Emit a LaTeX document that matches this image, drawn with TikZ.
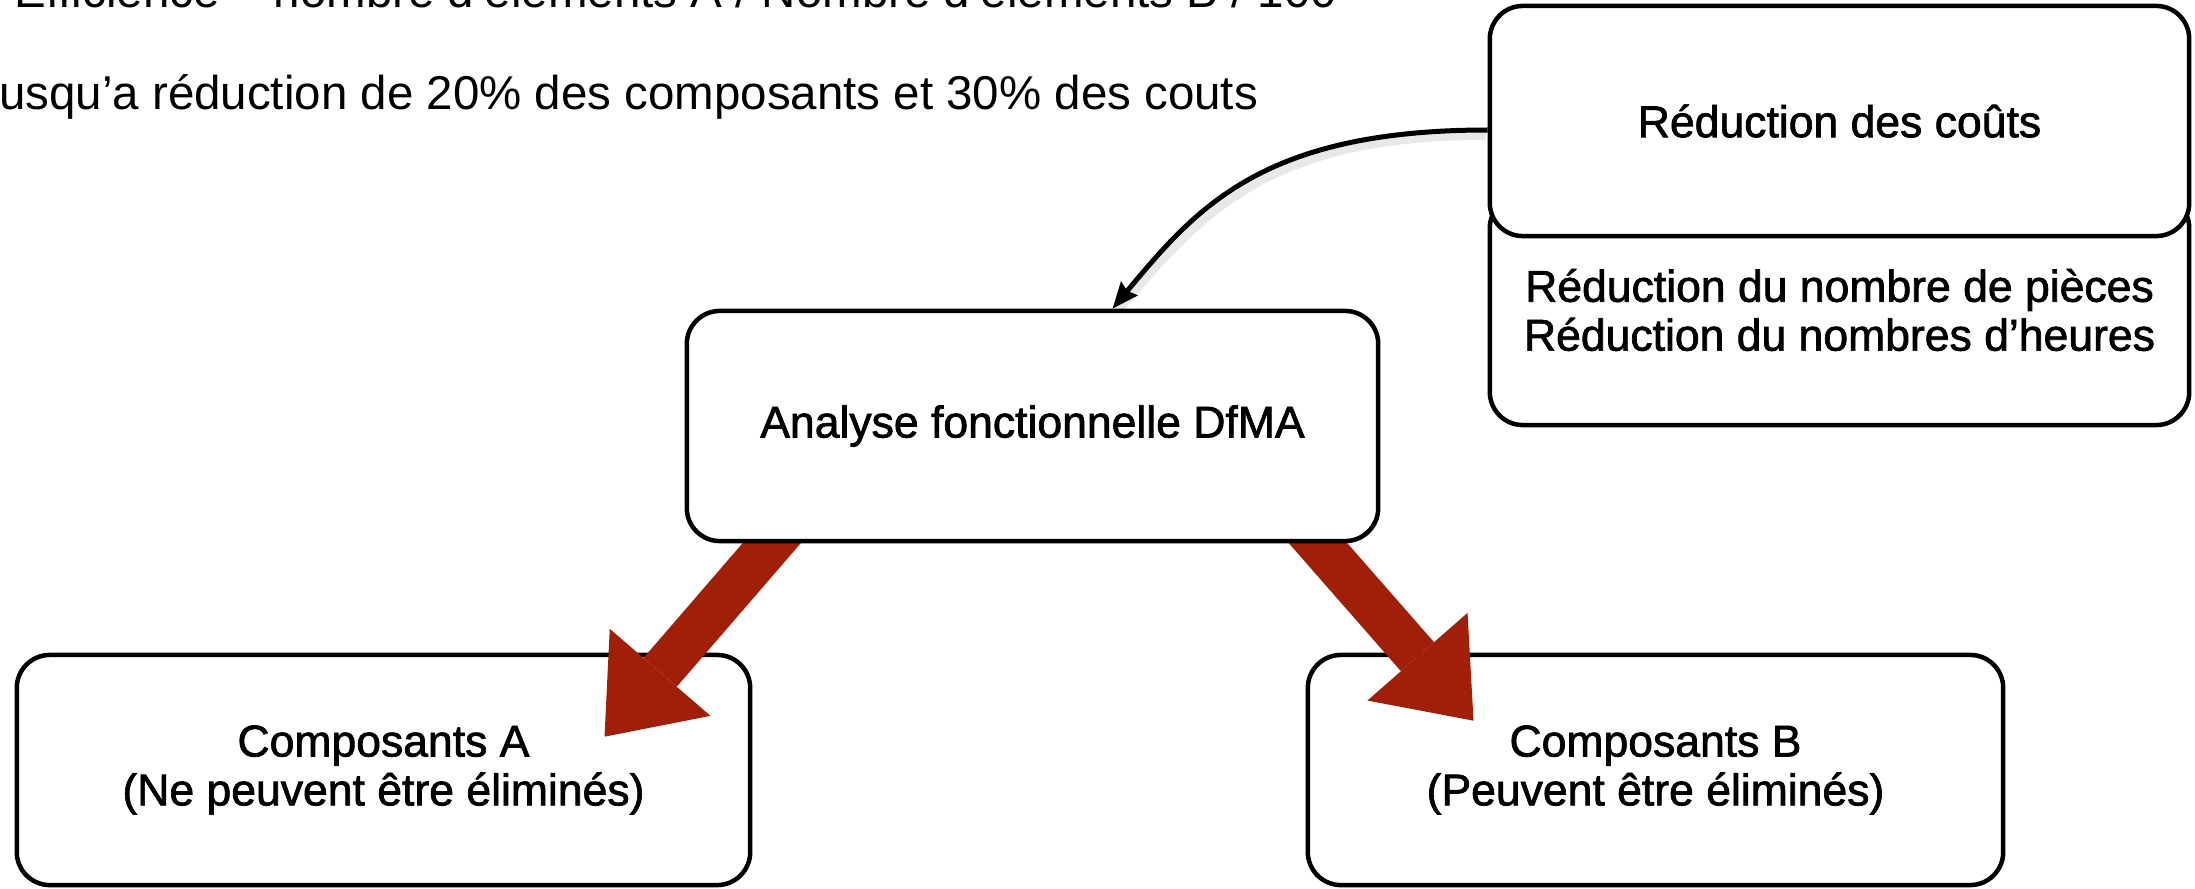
\documentclass[tikz,border=0pt]{standalone}
\usepackage{fontspec}
\setmainfont{Liberation Sans}
\newfontfamily\dfmaMedium[FakeBold=1.6]{Liberation Sans}
\usetikzlibrary{arrows.meta,calc}
\pgfdeclarelayer{front}
\pgfsetlayers{main,front}
\definecolor{arrowred}{RGB}{160,31,8}
\newcommand{\dfmaBoxFont}{\dfmaMedium\fontsize{12.66pt}{13.9pt}\selectfont}
\newcommand{\dfmaTopFont}{\fontsize{13.5pt}{16pt}\selectfont}
\begin{document}
\begin{tikzpicture}[x=0.01cm,y=-0.01cm,
  box/.style={draw, line width=0.045cm, rounded corners=0.33cm, fill=white, inner sep=0pt,
    minimum height=2.3cm, align=center, font=\dfmaBoxFont},
  toptext/.style={anchor=base west, inner sep=0pt, font=\dfmaTopFont},
  bigarrow/.style={draw=arrowred, line width=0.44cm,
    -{Triangle[length=0.85cm,width=1.33cm,line width=0pt,fill=arrowred]}},
  curvearrow/.style={line width=0.05cm, -{Stealth[length=0.26cm,width=0.21cm,inset=0.03cm]}}]
\useasboundingbox (0,0) rectangle (2195,888);
\clip (0,0) rectangle (2195,888);

\node[toptext] (t1) at (14,8) {Efficience = nombre d’éléments A / Nombre d’éléments B / 100};
\node[toptext] (t2) at (-12,110) {jusqu’a réduction de 20\% des composants et 30\% des couts};

\node[box, minimum width=7.33cm] (A) at (383.5,770) {Composants A\\(Ne peuvent être éliminés)};
\node[box, minimum width=6.95cm] (B) at (1655.5,770) {Composants B\\(Peuvent être éliminés)};
\begin{pgfonlayer}{front}
\node[box, minimum width=6.91cm] (ana) at (1032.5,426) {Analyse fonctionnelle DfMA};
\end{pgfonlayer}
\node[box, minimum width=6.99cm] (det) at (1839.5,310) {Réduction du nombre de pièces\\Réduction du nombres d’heures};
\node[box, minimum width=6.99cm] (cost) at (1839.5,121) {Réduction des coûts};

\draw[bigarrow] ($(ana.south)+(-235,-30)$) -- ($(A.north)+(221,84)$);
\draw[bigarrow] ($(ana.south)+(262,-27)$) -- ($(B.north)+(-182,68)$);

\draw[black!9, line width=0.08cm] ($(cost.west)+(-2,15)$) .. controls +(-220,0) and +(84,-99) .. ($(ana.north)+(84,4)$);
\draw[curvearrow] ($(cost.west)+(0,9)$) .. controls +(-225,0) and +(84,-101) .. ($(ana.north)+(80,0)$);
\end{tikzpicture}
\end{document}
